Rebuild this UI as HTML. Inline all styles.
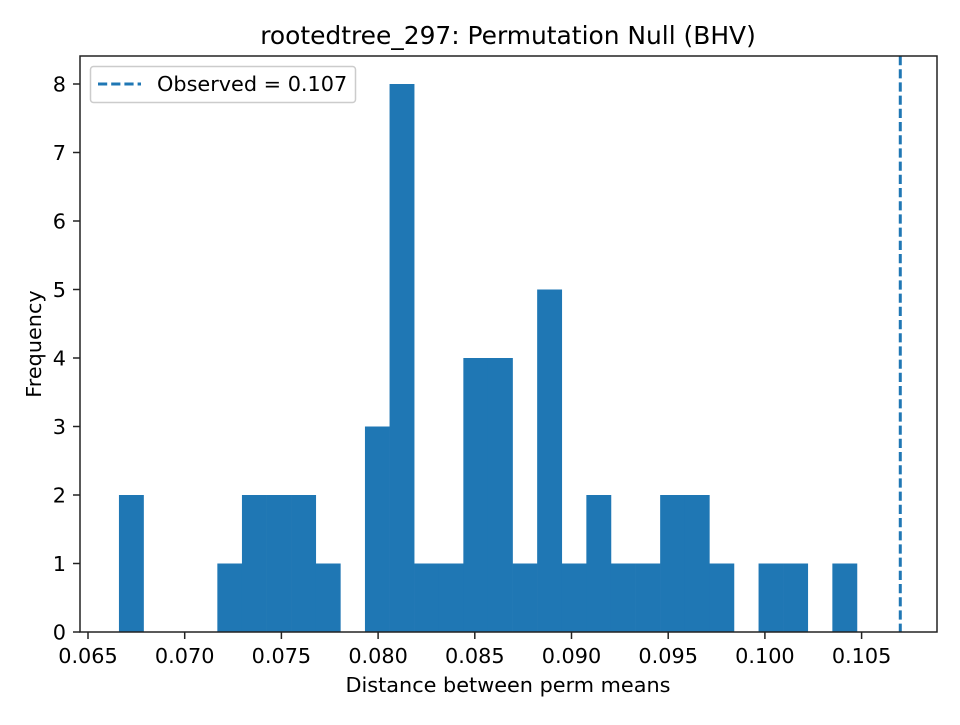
<!DOCTYPE html>
<html><head><meta charset="utf-8"><style>
body{margin:0;background:#fff;}
svg text{font-family:"DejaVu Sans","Liberation Sans",sans-serif;fill:#000;}
</style></head><body>
<svg id="chart" width="960" height="720" xmlns="http://www.w3.org/2000/svg">
<rect width="960" height="720" fill="#fff"/>
<g id="bars"></g>
<g id="xaxis"></g>
<g id="yaxis"></g>
<line id="obs" stroke="#1f77b4" stroke-width="3" stroke-dasharray="9.2,4"/>
<rect x="80" y="56" width="857" height="576" fill="none" stroke="#222" stroke-width="1.5"/>
<text x="508" y="44" font-size="24.9" text-anchor="middle">rootedtree_297: Permutation Null (BHV)</text>
<text x="508" y="692" font-size="20.8" text-anchor="middle">Distance between perm means</text>
<text x="41" y="344" font-size="20.8" text-anchor="middle" transform="rotate(-90 41 344)">Frequency</text>
<g>
<rect x="90.5" y="66.5" width="265" height="36" rx="3" fill="#fff" fill-opacity="0.8" stroke="#ccc" stroke-width="1.5"/>
<line x1="98" y1="84" x2="141" y2="84" stroke="#1f77b4" stroke-width="3" stroke-dasharray="9.2,4"/>
<text x="157" y="91" font-size="20.8">Observed = 0.107</text>
</g>
</svg>
<script>
const binStart = 0.0666;
const binWidth = 0.001272;
const counts = [2,0,0,0,1,2,2,2,1,0,3,8,1,1,4,4,1,5,1,2,1,1,2,2,1,0,1,1,0,1];
const xTicks = [0.065,0.070,0.075,0.080,0.085,0.090,0.095,0.100,0.105];
const xTickLabels = ["0.065","0.070","0.075","0.080","0.085","0.090","0.095","0.100","0.105"];
const yTicks = [0,1,2,3,4,5,6,7,8];
const observed = 0.107;

const NS="http://www.w3.org/2000/svg";
const X = v => 88 + (v-0.065)/0.005*96.7;
const Y = v => 632 - v*68.5;
function mk(tag,attrs,parent){const e=document.createElementNS(NS,tag);for(const k in attrs)e.setAttribute(k,attrs[k]);parent.appendChild(e);return e;}
const bars=document.getElementById('bars');
counts.forEach((c,i)=>{
  if(c<=0)return;
  const x0=X(binStart+i*binWidth), x1=X(binStart+(i+1)*binWidth);
  const r=mk('rect',{x:x0,y:Y(c),width:x1-x0+0.3,height:Y(0)-Y(c),fill:'#1f77b4'},bars);
  
  
});
const xa=document.getElementById('xaxis');
xTicks.forEach((t,i)=>{
  mk('line',{x1:X(t),x2:X(t),y1:632,y2:639,stroke:'#222','stroke-width':1.5},xa);
  const tx=mk('text',{x:X(t),y:663,'font-size':20.8,'text-anchor':'middle'},xa);
  tx.textContent=xTickLabels[i];
  
  
});
const ya=document.getElementById('yaxis');
yTicks.forEach(t=>{
  mk('line',{x1:73,x2:80,y1:Y(t),y2:Y(t),stroke:'#222','stroke-width':1.5},ya);
  const tx=mk('text',{x:66,y:Y(t)+7.5,'font-size':20.8,'text-anchor':'end'},ya);
  tx.textContent=String(t);
  
  
});
const o=document.getElementById('obs');
o.setAttribute('x1',X(observed));o.setAttribute('x2',X(observed));
o.setAttribute('y1',56);o.setAttribute('y2',632);
</script>
</body></html>
